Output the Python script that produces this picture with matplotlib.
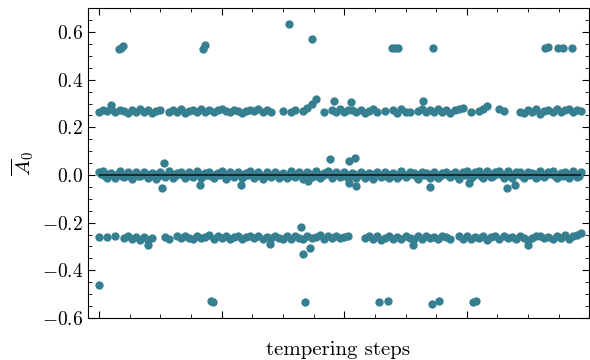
import matplotlib
matplotlib.use("Agg")
import matplotlib.pyplot as plt
import numpy as np
from matplotlib.ticker import AutoMinorLocator, MultipleLocator

nan = np.nan
POINT_COLOR = "#367f91"
STEP = 4  # tempering steps between stored samples

# mean A_0 of the replica near zero, one value per stored step
a0_mid = [
    0.012, 0.016, -0.014, 0.010, -0.012, 0.015, -0.009, 0.013, -0.015, 0.011,
    -0.006, 0.014, -0.013, 0.009, -0.016, 0.012, -0.010, 0.015, -0.012, 0.008,
    0.013, -0.014, 0.011, -0.009, 0.015, -0.013, 0.010, 0.014, -0.011, 0.007,
    0.016, -0.015, 0.012, -0.010, 0.013, -0.014, 0.009, 0.015, -0.012, 0.011,
    -0.015, 0.012, -0.008, 0.014, -0.013, 0.010, -0.014, 0.016, -0.009, 0.012,
    -0.016, 0.013, -0.010, 0.017, -0.012, 0.009, 0.015, -0.014, 0.011, -0.008,
    0.014, -0.013, 0.010, -0.011, 0.013, -0.012, 0.008, -0.015, 0.012, -0.009,
    0.014, -0.012, 0.010, -0.013, 0.016, -0.010, 0.011, 0.007, -0.015, 0.012,
    0.010, -0.011, 0.014, -0.013, 0.008, 0.013, -0.010, 0.011, -0.017, 0.014,
    0.018, -0.011, 0.013, 0.016, -0.012, 0.017, -0.010, 0.014, 0.016, -0.013,
    0.015, -0.014, 0.011, 0.014, -0.011, 0.013, 0.009, -0.012, 0.015, -0.010,
    0.012, 0.016, -0.013, 0.010, 0.013, -0.011, 0.015, -0.009, 0.012,
]

# samples taken half-way between the stored steps above
a0_mid_half = [
    0.003, -0.004, 0.005, -0.002, 0.004, -0.005, 0.002, -0.003, 0.006, -0.004,
    0.001, 0.005, -0.003, 0.004, -0.006, 0.002, -0.001, 0.005, -0.004, 0.003,
    -0.002, 0.004, -0.005, 0.003, 0.006, -0.003, 0.002, -0.004, 0.005, -0.001,
    0.004, -0.006, 0.003, -0.002, 0.005, -0.004, 0.001, 0.006, -0.003, 0.002,
    -0.005, 0.003, -0.001, 0.004, -0.006, 0.002, -0.003, 0.005, -0.002, 0.004,
    -0.004, 0.006, -0.003, 0.002, -0.005, 0.003, 0.004, -0.002, 0.005, -0.003,
    0.002, -0.004, 0.006, -0.001, 0.003, -0.005, 0.004, -0.002, 0.001, -0.004,
    0.005, -0.003, 0.002, -0.006, 0.004, -0.001, 0.003, -0.004, 0.006, -0.002,
    0.004, -0.005, 0.002, -0.003, 0.005, -0.001, 0.003, -0.006, 0.004, -0.002,
    0.006, -0.003, 0.005, -0.004, 0.002, 0.004, -0.005, 0.003, -0.002, 0.005,
    -0.004, 0.002, 0.006, -0.003, 0.004, -0.001, 0.003, -0.005, 0.004, -0.002,
    0.005, -0.003, 0.002, -0.004, 0.006, -0.002, 0.003, -0.004,
]

a0_up = [
    0.266, 0.274, 0.268, 0.277, 0.263, 0.273, 0.267, 0.262, 0.272, 0.265,
    0.275, 0.264, 0.271, 0.262, 0.270, 0.274, nan,
    0.264, 0.272, 0.266, 0.275, 0.262, 0.270, 0.274, 0.265, 0.276, 0.266,
    0.272, 0.263, 0.273, 0.277, 0.268, 0.264, 0.274, 0.270, 0.262, 0.267,
    0.274, 0.268, 0.276, 0.263, 0.272, 0.266, nan, nan,
    0.270, nan, 0.266, 0.273, nan, 0.268, 0.280, 0.298, 0.318, nan,
    0.266, nan, 0.273,
    0.265, 0.275, 0.263, 0.271, 0.274, 0.264, 0.273, 0.262, 0.270, 0.277, 0.266,
    nan, 0.267, nan,
    0.272, 0.262, 0.275, 0.266, 0.263, nan,
    0.268, 0.275, 0.263, 0.272, 0.265, 0.276, 0.264, 0.273, 0.262, 0.271,
    0.276, 0.282,
    nan, 0.266, nan, 0.267, 0.278, 0.290, nan, nan, 0.275, 0.270, nan, nan, nan,
    0.266, 0.262, 0.273, 0.264, 0.275, 0.258, 0.270, 0.274, 0.263, 0.276,
    0.265, 0.272, 0.277, 0.264, 0.274, 0.268,
]

a0_low = [
    -0.260, nan, -0.262, nan, -0.258, nan,
    -0.265, -0.257, -0.268, -0.260, -0.271, -0.261, -0.272, -0.264,
    nan, nan, -0.262, -0.267, nan,
    -0.258, -0.266, -0.255, -0.263, -0.269, -0.257, -0.265, -0.260, -0.254, -0.268,
    -0.258, -0.264, -0.255, -0.267, -0.261, -0.256, -0.269, -0.262, -0.257, -0.266,
    -0.255, -0.268, -0.260, -0.266, -0.256, -0.263, -0.270, -0.258, -0.267, -0.255,
    -0.263, -0.269, -0.256, -0.266, -0.260, -0.254, -0.267, -0.258, -0.264, -0.255,
    -0.266, -0.260, -0.257,
    nan, nan, nan,
    -0.263, -0.255, -0.268, -0.258, -0.271, -0.264, -0.256, -0.269, -0.260, -0.267,
    -0.255, -0.263, -0.270, -0.258, -0.267, -0.256, -0.265, -0.260, -0.269, -0.255,
    -0.262, -0.268,
    nan,
    -0.258, -0.267, -0.255, -0.269, -0.260, -0.266, -0.256, -0.271, -0.262, -0.257,
    -0.268, -0.255, -0.265, -0.260, -0.270, -0.256, -0.263, -0.273, -0.266, -0.258,
    -0.255, -0.266, -0.260, -0.268, -0.256, -0.263, -0.254, -0.267, -0.258, -0.252,
    -0.245,
]

# isolated excursions: (step, A_0)
outlier_steps = [
    63.5, 61.6, 98.8, 138.9, 226.0, 204.5, 244.6, 250.5, 244.6, 251.4,
    323.8, 362.0, 399.2, 407.0,
    11.7, 230.0, 246.5, 317.0,
    48.0, 167.3, 197.6, 199.6, 206.4, 307.3, 419.8,
    19.5, 21.4, 23.4, 101.7, 103.7, 185.9, 208.4, 286.6, 289.5, 292.5,
    326.8, 436.4, 439.4, 449.1, 454.0, 462.9,
    0.0, 109.5, 111.5, 201.5, 273.9, 282.8, 325.9, 332.7, 366.0, 368.9,
]
outlier_values = [
    0.049, -0.053, -0.041, -0.041, 0.067, -0.024, 0.060, 0.070, -0.035, -0.046,
    -0.049, -0.032, -0.056, -0.041,
    0.295, 0.310, 0.305, 0.310,
    -0.293, -0.290, -0.220, -0.330, -0.305, -0.293, -0.295,
    0.528, 0.535, 0.542, 0.530, 0.545, 0.634, 0.570, 0.532, 0.532, 0.532,
    0.532, 0.532, 0.537, 0.534, 0.534, 0.534,
    -0.463, -0.528, -0.535, -0.532, -0.534, -0.530, -0.540, -0.530, -0.532, -0.528,
]

plt.rcParams.update({
    "font.family": "serif",
    "font.serif": ["cmr10"],
    "mathtext.fontset": "cm",
    "axes.formatter.use_mathtext": True,
    "axes.unicode_minus": True,
    "font.size": 14,
})

steps = np.arange(len(a0_mid)) * STEP
half_steps = np.arange(len(a0_mid_half)) * STEP + STEP / 2

fig = plt.figure(figsize=(5.9, 3.6), dpi=100)
ax = fig.add_axes([0.149, 0.117, 0.849, 0.86])

for band in (a0_mid, a0_up, a0_low):
    ax.scatter(steps, band, s=36, color=POINT_COLOR, linewidths=0, zorder=2)
ax.scatter(half_steps, a0_mid_half, s=36, color=POINT_COLOR,
           linewidths=0, zorder=2)
ax.scatter(outlier_steps, outlier_values, s=36, color=POINT_COLOR,
           linewidths=0, zorder=2)
ax.hlines(0, steps[0], steps[-1], color="#1a1a1a", lw=1.2, zorder=3)

ax.set_xlim(-11, 479.5)
ax.set_ylim(-0.6, 0.7)
ax.xaxis.set_major_locator(MultipleLocator(120))
ax.xaxis.set_minor_locator(AutoMinorLocator(4))
ax.yaxis.set_major_locator(MultipleLocator(0.2))
ax.yaxis.set_minor_locator(AutoMinorLocator(4))
ax.tick_params(which="both", direction="in", top=True, right=True,
               labelbottom=False, labelsize=14)
ax.tick_params(which="major", length=5)
ax.tick_params(which="minor", length=3)

ax.set_xlabel("tempering steps", fontsize=15, labelpad=17)
ax.set_ylabel(r"$\overline{A}_0$", fontsize=15)

fig.savefig("out.png", dpi=100)
